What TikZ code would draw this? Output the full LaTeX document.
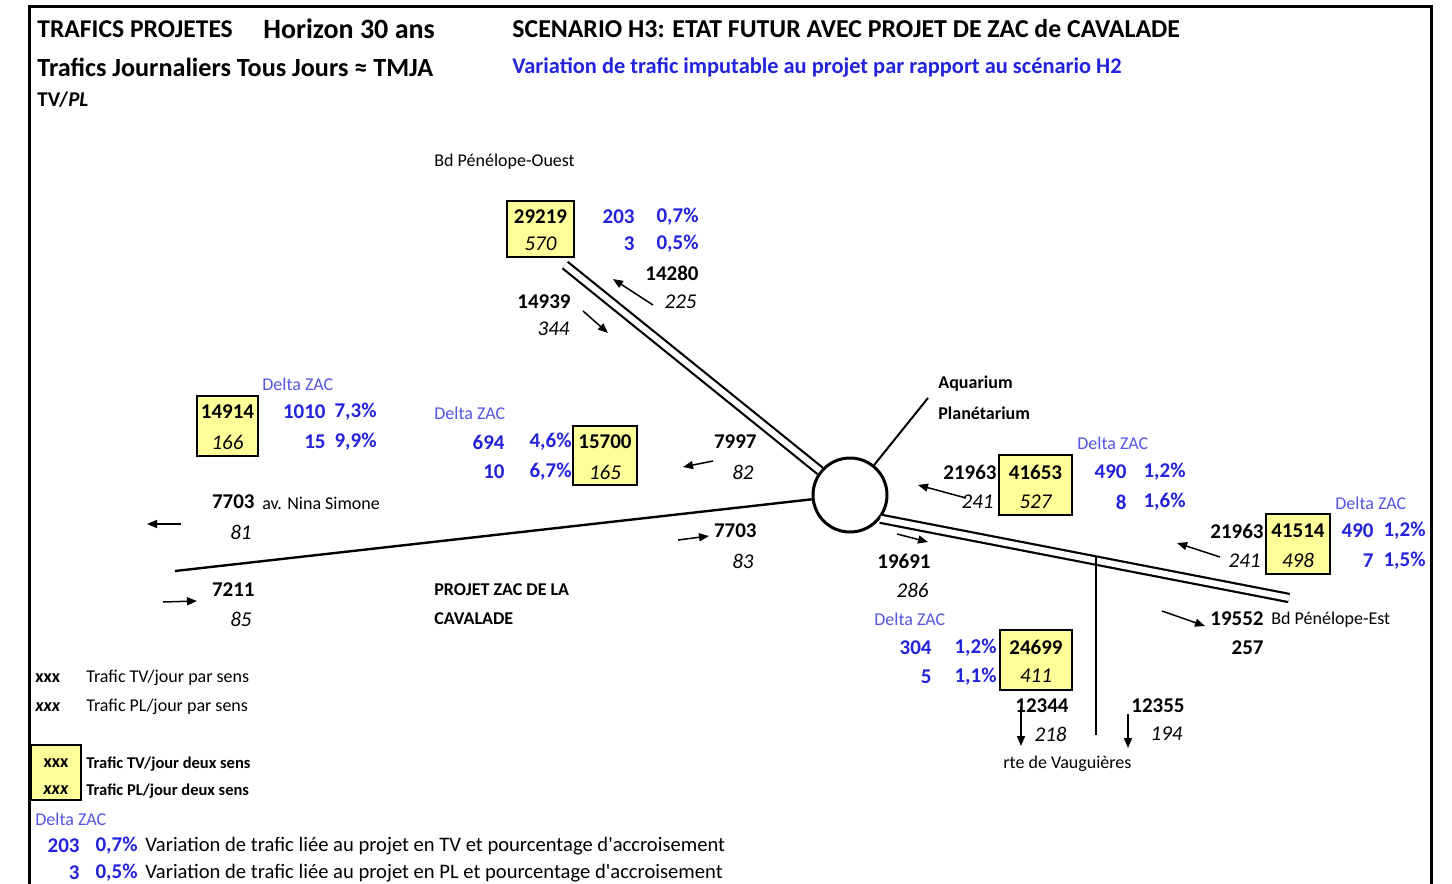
\documentclass[tikz,border=0pt]{standalone}
\usepackage{fontspec}
\setmainfont{Carlito}[Ligatures=TeXOff]
\usetikzlibrary{arrows.meta}
\definecolor{jauneboite}{HTML}{FFFF99}
\definecolor{bleudelta}{HTML}{2323DC}
\definecolor{bleuzac}{HTML}{5555E6}
\newcommand\ftitre{\fontsize{12.8}{15}\selectfont}
\newcommand\fnum{\fontsize{10.5}{12}\selectfont}
\newcommand\flbl{\fontsize{9}{11}\selectfont}
\newcommand\fleg{\fontsize{10.3}{12}\selectfont}

\begin{document}
\begin{tikzpicture}[x=0.5pt, y=-0.5pt,
    tv/.style={font=\fnum\bfseries, inner sep=0pt},
    pl/.style={font=\fnum\itshape, inner sep=0pt},
    dz/.style={font=\fnum\bfseries, text=bleudelta, inner sep=0pt, anchor=east},
    delta/.style={font=\flbl, text=bleuzac, inner sep=0pt, anchor=west},
    lbl/.style={font=\flbl, inner sep=0pt, anchor=west},
    lblb/.style={font=\flbl\bfseries, inner sep=0pt, anchor=west},
    boite/.style={draw, fill=jauneboite, line width=1pt},
    sens/.style={line width=0.75pt, -{Triangle[length=5pt, width=4pt]}},
    route/.style={line width=1.2pt},
    route2/.style={line width=1.1pt, double, double distance=3pt}]
      \useasboundingbox (0,0) rectangle (1452,884);
      \fill[white] (0,0) rectangle (1452,884);
      \draw[line width=1.5pt] (29,884) -- (29,6) -- (1431,6) -- (1431,884);

      % titres
      \node[anchor=west, font=\ftitre\bfseries, inner sep=0pt] (titre) at (37,29) {TRAFICS PROJETES};
      \node[anchor=west, font=\fontsize{14}{16}\selectfont\bfseries, inner sep=0pt] (horizon) at (263,29) {Horizon 30 ans};
      \node[anchor=west, font=\fontsize{13.1}{15}\selectfont\bfseries, inner sep=0pt] (tmja) at (37,67) {Trafics Journaliers Tous Jours ≈ TMJA};
      \node[anchor=west, font=\fnum\bfseries, inner sep=0pt] (tvpl) at (37,100) {TV/\textit{PL}};
      \node[anchor=west, font=\fontsize{12.9}{15}\selectfont\bfseries, inner sep=0pt] (scenario) at (512,29) {SCENARIO H3: ETAT FUTUR AVEC PROJET DE ZAC de CAVALADE};
      \node[anchor=west, font=\fontsize{11.2}{13}\selectfont\bfseries, text=bleudelta, inner sep=0pt] (variation) at (512,68) {Variation de trafic imputable au projet par rapport au scénario H2};

      % voirie
      \node[draw, circle, line width=1.5pt, minimum size=37pt, inner sep=0pt] (rp) at (850,495) {};
      \coordinate (nw) at (565,265);
      \coordinate (ouest) at (175,571);
      \coordinate (aq) at (928,398);
      \coordinate (se) at (1289,598);
      \coordinate (vt) at (1096,556);
      \coordinate (vb) at (1096,735);
      \draw[route2] (nw) -- (rp);
      \draw[route] (ouest) -- (rp);
      \draw[route, line width=1pt] (aq) -- (rp);
      \draw[route2] (rp.-38) -- (se);
      \draw[route, line width=1pt] (vt) -- (vb);

      % Bd Penelope-Ouest
      \node[lbl] (bdouest) at (434,162) {Bd Pénélope-Ouest};
      \draw[boite] (507,201) rectangle (574,257);
      \node[tv] (tnw) at (540.5,217) {29219};
      \node[pl] (pnw) at (540.5,244) {570};
      \node[dz] (dnwa) at (635,217) {203};
      \node[dz] (dnwb) at (699,217) {0,7\%};
      \node[dz] (dnwc) at (635,244) {3};
      \node[dz] (dnwd) at (699,244) {0,5\%};
      \node[tv, anchor=east] (tnwe) at (699,273) {14280};
      \node[pl, anchor=east] (pnwe) at (697,302) {225};
      \draw[sens] (653,305) -- (613,279);
      \node[tv, anchor=east] (tnws) at (571,302) {14939};
      \node[pl, anchor=east] (pnws) at (570,329) {344};
      \draw[sens] (583,311) -- (608,333);

      % av. Nina Simone
      \node[delta] (dzw) at (262,384) {Delta ZAC};
      \draw[boite] (197,396) rectangle (258,456);
      \node[tv] (tw) at (227.5,412) {14914};
      \node[pl] (pw) at (227.5,442) {166};
      \node[dz] (dwa) at (326,412) {1010};
      \node[dz] (dwb) at (377,412) {7,3\%};
      \node[dz] (dwc) at (326,442) {15};
      \node[dz] (dwd) at (377,442) {9,9\%};
      \node[tv, anchor=east] (twn) at (255,502) {7703};
      \node[lbl] (nina) at (262,503) {av. Nina Simone};
      \draw[sens] (181,524) -- (147,524);
      \node[pl, anchor=east] (pwn) at (252,532) {81};
      \node[tv, anchor=east] (tws) at (255,590) {7211};
      \node[pl, anchor=east] (pws) at (252,619) {85};
      \draw[sens] (163,602) -- (197,601);

      % ZAC
      \node[delta] (dzc) at (434,413) {Delta ZAC};
      \node[dz] (dca) at (505,442) {694};
      \node[dz] (dcb) at (572,442) {4,6\%};
      \node[dz] (dcc) at (505,472) {10};
      \node[dz] (dcd) at (572,472) {6,7\%};
      \draw[boite] (573,426) rectangle (637,485);
      \node[tv] (tc) at (605,442) {15700};
      \node[pl] (pc) at (605,472) {165};
      \node[tv, anchor=east] (tcn) at (757,442) {7997};
      \node[pl, anchor=east] (pcn) at (754,472) {82};
      \draw[sens] (713,461) -- (683,467);
      \draw[sens] (678,540) -- (709,536);
      \node[tv, anchor=east] (tcs) at (757,531) {7703};
      \node[pl, anchor=east] (pcs) at (754,561) {83};
      \node[lblb] (zaca) at (434,590) {PROJET ZAC DE LA};
      \node[lblb] (zacb) at (434,619) {CAVALADE};

      % Aquarium
      \node[lblb] (aqua) at (938,384) {Aquarium};
      \node[lblb] (plan) at (938,413) {Planétarium};

      % branche est
      \node[delta] (dze) at (1077,443) {Delta ZAC};
      \node[tv, anchor=east] (ten) at (997,472) {21963};
      \node[pl, anchor=east] (pen) at (994,502) {241};
      \draw[boite] (999,455) rectangle (1072,515);
      \node[tv] (te) at (1035.5,472) {41653};
      \node[pl] (pe) at (1035.5,502) {527};
      \node[dz] (dea) at (1127,472) {490};
      \node[dz] (deb) at (1186,472) {1,2\%};
      \node[dz] (dec) at (1127,502) {8};
      \node[dz] (ded) at (1186,502) {1,6\%};
      \draw[sens] (966,498) -- (918,485);
      \draw[sens] (897,534) -- (928,542);
      \node[tv, anchor=east] (tes) at (931,561) {19691};
      \node[pl, anchor=east] (pes) at (929,590) {286};

      % rte de Vauguieres
      \node[delta] (dzv) at (874,619) {Delta ZAC};
      \node[dz] (dva) at (932,648) {304};
      \node[dz] (dvb) at (997,648) {1,2\%};
      \node[dz] (dvc) at (932,677) {5};
      \node[dz] (dvd) at (997,677) {1,1\%};
      \draw[boite] (1000,630) rectangle (1072,690);
      \node[tv] (tv) at (1036,647) {24699};
      \node[pl] (pv) at (1036,676) {411};
      \node[tv, anchor=east] (tvw) at (1069,706) {12344};
      \node[pl, anchor=east] (pvw) at (1067,734) {218};
      \draw[sens] (1021,707) -- (1021,746);
      \node[tv, anchor=east] (tve) at (1185,706) {12355};
      \node[pl, anchor=east] (pve) at (1183,734) {194};
      \draw[sens] (1128,714) -- (1128,748);
      \node[lbl] (vaug) at (1003,764) {rte de Vauguières};

      % Bd Penelope-Est
      \node[delta] (dzf) at (1335,503) {Delta ZAC};
      \node[tv, anchor=east] (tfn) at (1264,531) {21963};
      \node[pl, anchor=east] (pfn) at (1261,561) {241};
      \draw[boite] (1266,514) rectangle (1330,574);
      \node[tv] (tf) at (1298,531) {41514};
      \node[pl] (pf) at (1298,560) {498};
      \node[dz] (dfa) at (1374,531) {490};
      \node[dz] (dfb) at (1426,531) {1,2\%};
      \node[dz] (dfc) at (1374,561) {7};
      \node[dz] (dfd) at (1426,561) {1,5\%};
      \draw[sens] (1220,557) -- (1177,543);
      \draw[sens] (1162,611) -- (1205,626);
      \node[tv, anchor=east] (tfs) at (1264,619) {19552};
      \node[lbl] (bdest) at (1271,620) {Bd Pénélope-Est};
      \node[tv, anchor=east] (pfs) at (1264,648) {257};

      % legende
      \node[lblb] (lxa) at (35,678) {xxx};
      \node[lbl] (lta) at (86,678) {Trafic TV/jour par sens};
      \node[lblb] (lxb) at (35,707) {\textit{xxx}};
      \node[lbl] (ltb) at (86,707) {Trafic PL/jour par sens};
      \draw[boite] (31,745) rectangle (81,800);
      \node[lblb, anchor=center] (lxc) at (56,763) {xxx};
      \node[lblb, anchor=center] (lxd) at (56,790) {\textit{xxx}};
      \node[lblb, font=\fontsize{8.25}{10}\selectfont\bfseries] (ltc) at (86,764) {Trafic TV/jour deux sens};
      \node[lblb, font=\fontsize{8.25}{10}\selectfont\bfseries] (ltd) at (86,791) {Trafic PL/jour deux sens};
      \node[delta] (dzl) at (35,819) {Delta ZAC};
      \node[dz] (dla) at (80,846) {203};
      \node[dz] (dlb) at (138,846) {0,7\%};
      \node[lbl, font=\fleg] (lte) at (145,846) {Variation de trafic liée au projet en TV et pourcentage d'accroisement};
      \node[dz] (dlc) at (80,873) {3};
      \node[dz] (dld) at (138,873) {0,5\%};
      \node[lbl, font=\fleg] (ltf) at (145,873) {Variation de trafic liée au projet en PL et pourcentage d'accroisement};
\end{tikzpicture}
\end{document}
